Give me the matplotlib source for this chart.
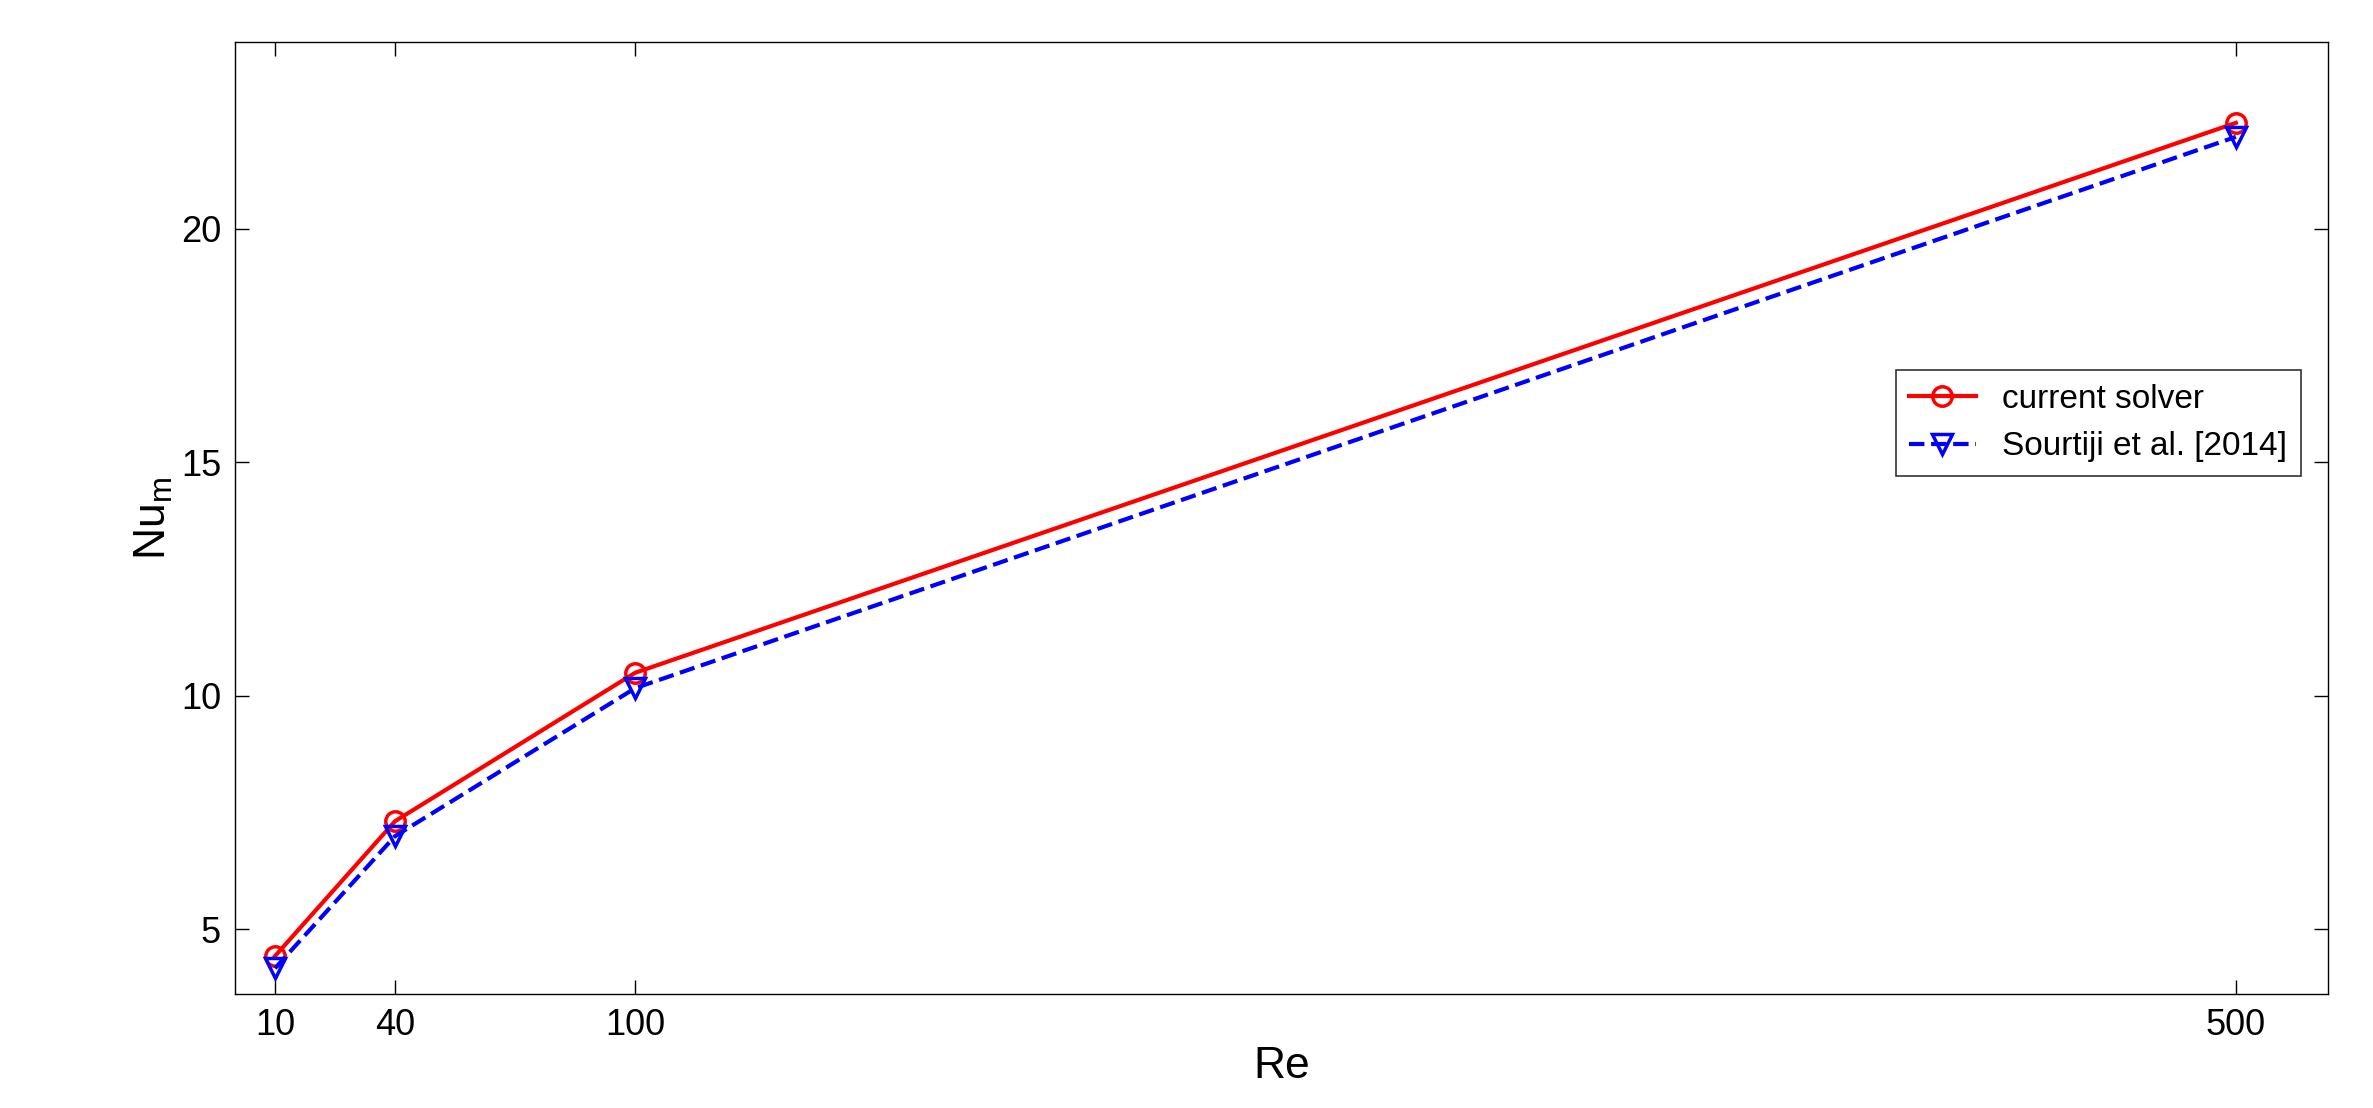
import matplotlib.pyplot as plt

re = [10, 40, 100, 500]
nu_current = [4.42, 7.31, 10.49, 22.27]
nu_sourtiji = [4.16, 6.99, 10.16, 21.97]
xticks = [10, 40, 100, 500]
yticks = [5, 10, 15, 20]

plt.rcParams['font.family'] = ['Liberation Sans', 'DejaVu Sans']

fig = plt.figure(figsize=(23.73, 11.08), dpi=100)
ax = fig.add_axes([0.099, 0.1025, 0.882, 0.8595])

ax.plot(re, nu_current, '-o', color='red', lw=3, ms=14, mfc='none', mew=2.5,
        label='current solver')
ax.plot(re, nu_sourtiji, '--v', color='blue', lw=3, ms=14, mfc='none', mew=2.5,
        label='Sourtiji et al. [2014]')

ax.set_xlim(0, 523)
ax.set_ylim(3.6, 24)
ax.set_xticks(xticks)
ax.set_yticks(yticks)
ax.tick_params(direction='in', length=10, width=1, labelsize=26, top=True, right=True, pad=10)
for s in ax.spines.values():
    s.set_linewidth(1)

ax.set_xlabel('Re', fontsize=32, labelpad=2)
ax.set_ylabel('Nu$_\\mathregular{m}$', fontsize=32)

leg = ax.legend(loc='center right', bbox_to_anchor=(0.995, 0.6), fontsize=24,
                fancybox=False, edgecolor='black', handlelength=2, borderpad=0.4)
leg.get_frame().set_linewidth(1.2)

fig.savefig('out.png', dpi=100)
